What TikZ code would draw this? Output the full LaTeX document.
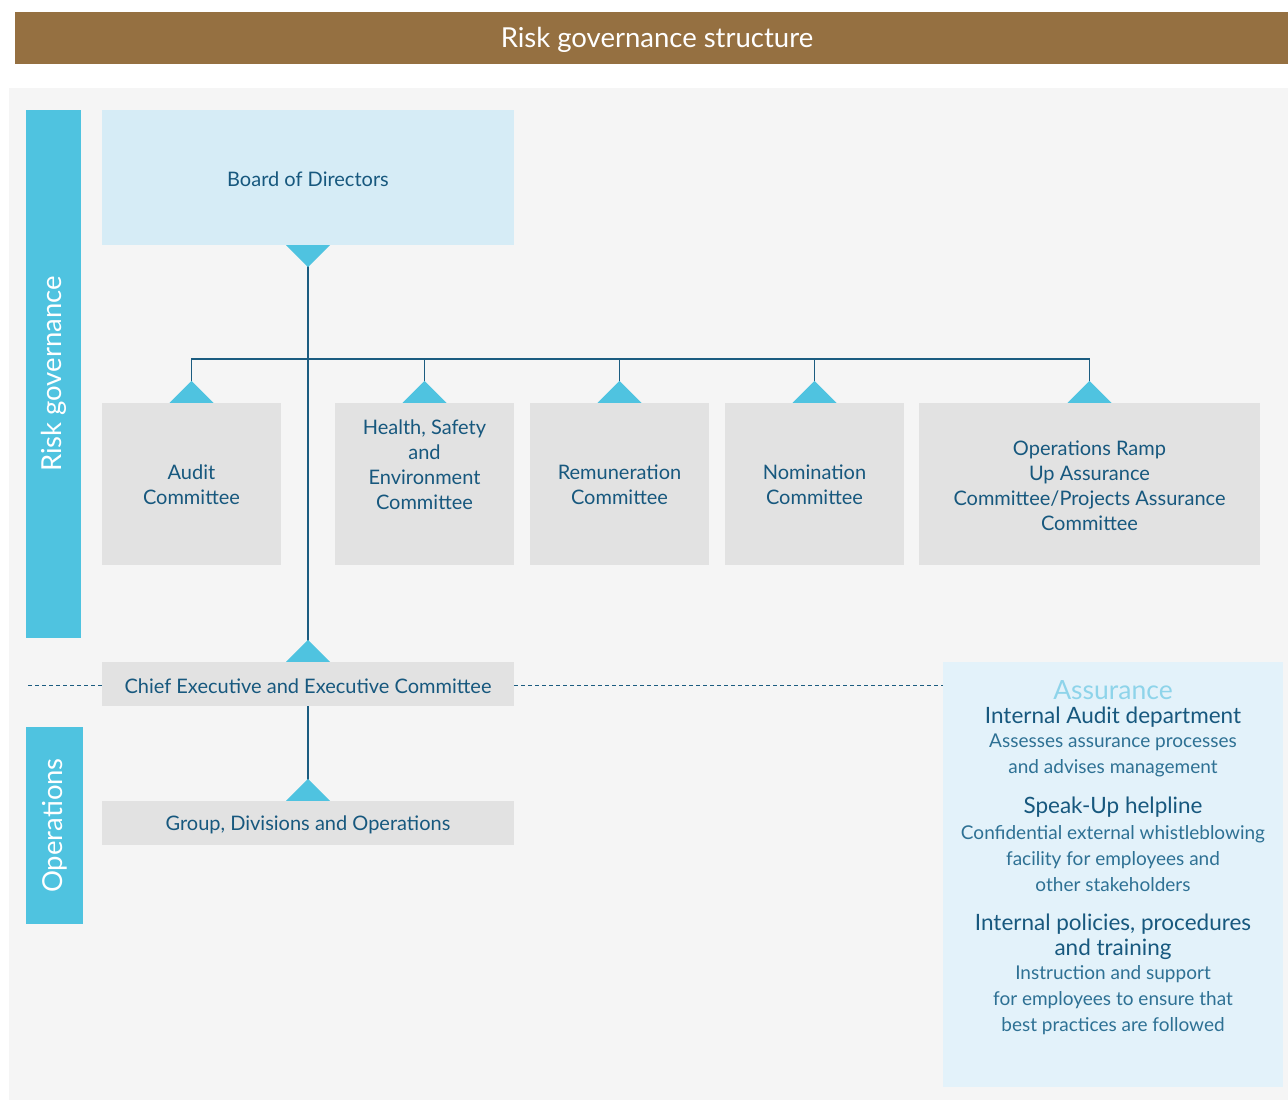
\documentclass[tikz,border=0pt]{standalone}
\usepackage{fontspec}
\setmainfont{Lato}
\usetikzlibrary{calc}
\definecolor{brown}{HTML}{957041}
\definecolor{panel}{HTML}{F5F5F5}
\definecolor{bar}{HTML}{4FC3E0}
\definecolor{boardbg}{HTML}{D6ECF6}
\definecolor{grey}{HTML}{E2E2E2}
\definecolor{assbg}{HTML}{E3F2FA}
\definecolor{dark}{HTML}{17587E}
\definecolor{conn}{HTML}{1B5C80}
\definecolor{desc}{HTML}{2E7194}
\definecolor{asst}{HTML}{8ED4EA}
\tikzset{
  boxbase/.style={inner sep=0pt, align=center, text=dark, font=\fontsize{20}{25}\selectfont},
  greybox/.style={boxbase, fill=grey},
  tri/.style={fill=bar},
  connline/.style={draw=conn, line width=1.4pt},
  dashline/.style={draw=conn, line width=1pt, dash pattern=on 4pt off 3pt},
  barlabel/.style={text=white, font=\fontsize{27.5}{30}\selectfont, rotate=90},
  ahead/.style={text=dark, font=\fontsize{22.5}{25}\selectfont, align=center},
  adesc/.style={text=desc, font=\fontsize{19}{26}\selectfont, align=center},
}
\begin{document}
\begin{tikzpicture}[x=1pt,y=-1pt]
\useasboundingbox (0,0) rectangle (1288,1100);
% header
\node[fill=brown, minimum width=1273, minimum height=52, inner sep=0pt] (title) at (651.5,38) {};
\node[text=white, font=\fontsize{27.5}{30}\selectfont] (titletxt) at (657,39.5) {Risk governance structure};
% panel
\fill[panel] (9,88) rectangle (1288,1100);
% side bars
\node[fill=bar, minimum width=55, minimum height=528, inner sep=0pt] (rgbar) at (53.5,374) {};
\node[barlabel] (rglabel) at (rgbar.center) {Risk governance};
\node[fill=bar, minimum width=57, minimum height=197, inner sep=0pt] (opbar) at (54.5,825.5) {};
\node[barlabel] (oplabel) at (opbar.center) {Operations};
% board
\node[boxbase, fill=boardbg, minimum width=412, minimum height=135] (board) at (308,177.5) {};
\node[boxbase] (boardtxt) at (308,179) {Board of Directors};
% committees
\node[greybox, minimum width=179, minimum height=162] (audit) at (191.5,484) {};
\node[boxbase] (audittxt) at (191.5,485) {Audit\\Committee};
\node[greybox, minimum width=179, minimum height=162] (hse) at (424.5,484) {};
\node[boxbase] (hsetxt) at (424.5,465) {Health, Safety\\and\\Environment\\Committee};
\node[greybox, minimum width=179, minimum height=162] (rem) at (619.5,484) {};
\node[boxbase] (remtxt) at (619.5,485) {Remuneration\\Committee};
\node[greybox, minimum width=179, minimum height=162] (nom) at (814.5,484) {};
\node[boxbase] (nomtxt) at (814.5,485) {Nomination\\Committee};
\node[greybox, minimum width=341, minimum height=162] (ops) at (1089.5,484) {};
\node[boxbase] (opstxt) at (1089.5,486) {Operations Ramp\\Up Assurance\\Committee/Projects Assurance\\Committee};
% executive
\node[greybox, minimum width=412, minimum height=44] (ceo) at (308,684) {};
\node[boxbase] (ceotxt) at (308,686) {Chief Executive and Executive Committee};
\node[greybox, minimum width=412, minimum height=44] (grp) at (308,823) {};
\node[boxbase] (grptxt) at (308,825) {Group, Divisions and Operations};
% assurance box
\node[fill=assbg, minimum width=340, minimum height=425, inner sep=0pt] (ass) at (1113,874.5) {};
% dashed lines
\coordinate (dl) at (28,685);
\draw[dashline] (dl) -- (ceo.west |- dl);
\draw[dashline] (ceo.east |- dl) -- (ass.west |- dl);
% assurance text
\node[text=asst, font=\fontsize{26.5}{30}\selectfont] (asstitle) at (1113,690) {Assurance};
\node[ahead] (h1) at (1113,717) {Internal Audit department};
\node[adesc] (d1) at (1113,755) {Assesses assurance processes\\and advises management};
\node[ahead] (h2) at (1113,807) {Speak-Up helpline};
\node[adesc] (d2) at (1113,858.5) {Confidential external whistleblowing\\facility for employees and\\other stakeholders};
\node[ahead] (h3) at (1113,936.5) {Internal policies, procedures\\and training};
\node[adesc] (d3) at (1113,1000.5) {Instruction and support\\for employees to ensure that\\best practices are followed};
% connectors
\coordinate (bus) at (308,359);
\draw[connline] ($(board.south)+(0,20)$) -- ($(ceo.north)+(0,-20)$);
\draw[connline] ($(audit.north)+(0,-20)$) -- (audit.north |- bus) -- (ops.north |- bus) -- ($(ops.north)+(0,-20)$);
\draw[connline] (hse.north |- bus) -- ($(hse.north)+(0,-20)$);
\draw[connline] (rem.north |- bus) -- ($(rem.north)+(0,-20)$);
\draw[connline] (nom.north |- bus) -- ($(nom.north)+(0,-20)$);
\draw[connline] (ceo.south) -- ($(grp.north)+(0,-20)$);
% triangles
\fill[tri] ($(board.south)+(-22,0)$) -- ($(board.south)+(22,0)$) -- ($(board.south)+(0,22)$) -- cycle;
\foreach \n in {audit,hse,rem,nom,ops,ceo,grp}{
  \fill[tri] ($(\n.north)+(-22,0)$) -- ($(\n.north)+(22,0)$) -- ($(\n.north)+(0,-22)$) -- cycle;
}
\end{tikzpicture}
\end{document}
